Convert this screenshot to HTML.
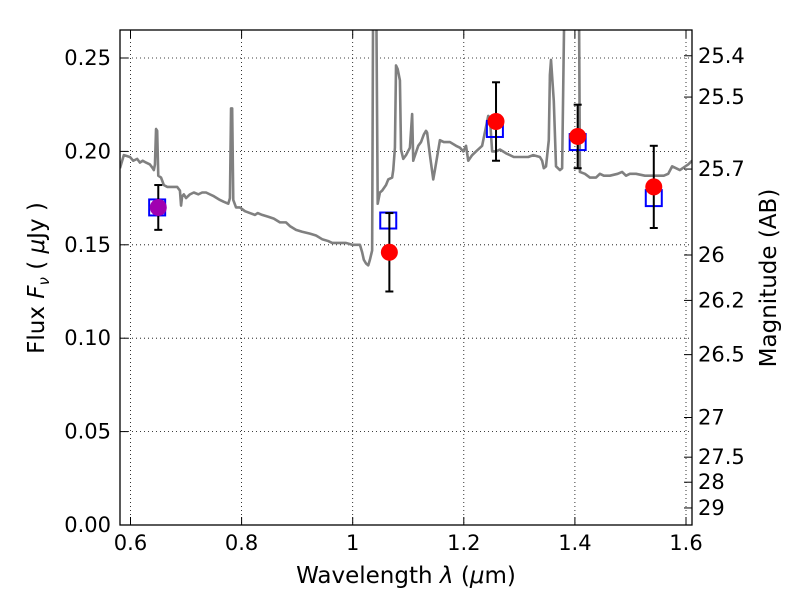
<!DOCTYPE html>
<html><head><meta charset="utf-8"><style>
body{margin:0;background:#fff}
svg text{font-family:"DejaVu Sans","Liberation Sans",sans-serif;fill:#000}
</style></head><body>
<svg id="c" width="800" height="600" xmlns="http://www.w3.org/2000/svg">
<rect width="800" height="600" fill="#fff"/>
<defs><clipPath id="pc"><rect x="120" y="30" width="572" height="495"/></clipPath></defs>
<g id="grid"></g>
<g id="spec" clip-path="url(#pc)"></g>
<g id="marks" clip-path="url(#pc)"></g>
<rect x="120" y="30" width="572" height="495" fill="none" stroke="#000" stroke-width="1.3"/>
<g id="axes"></g>
<text x="406" y="583" font-size="23" text-anchor="middle">Wavelength  <tspan font-style="italic">λ</tspan> (<tspan font-style="italic">μ</tspan>m)</text>
<text transform="translate(44,278) rotate(-90)" font-size="23" text-anchor="middle">Flux  <tspan font-style="italic">F<tspan font-size="15" dy="5">ν</tspan></tspan><tspan dy="-5">  ( </tspan><tspan font-style="italic">μ</tspan>Jy )</text>
<text transform="translate(776,278) rotate(-90)" font-size="23" text-anchor="middle">Magnitude (AB)</text>
</svg>
<script>
const specLam=[0.581,0.588,0.599,0.605,0.612,0.617,0.622,0.628,0.635,0.640,0.642,0.644,0.646,0.648,0.650,0.655,0.660,0.666,0.675,0.684,0.689,0.691,0.693,0.696,0.700,0.707,0.714,0.722,0.729,0.736,0.743,0.750,0.761,0.768,0.776,0.779,0.781,0.783,0.785,0.790,0.797,0.806,0.815,0.824,0.829,0.837,0.848,0.858,0.869,0.880,0.887,0.898,0.909,0.923,0.934,0.945,0.956,0.963,0.974,0.988,0.999,1.006,1.013,1.017,1.020,1.024,1.028,1.031,1.035,1.037,1.042,1.045,1.049,1.053,1.060,1.064,1.071,1.073,1.076,1.078,1.081,1.085,1.087,1.091,1.096,1.103,1.107,1.109,1.110,1.118,1.123,1.128,1.132,1.134,1.139,1.145,1.148,1.157,1.164,1.175,1.186,1.193,1.199,1.204,1.208,1.215,1.222,1.233,1.244,1.247,1.251,1.258,1.265,1.276,1.283,1.290,1.301,1.308,1.316,1.325,1.337,1.341,1.344,1.348,1.353,1.355,1.357,1.362,1.366,1.373,1.377,1.382,1.386,1.407,1.409,1.418,1.427,1.438,1.445,1.452,1.463,1.477,1.485,1.492,1.499,1.510,1.526,1.546,1.560,1.568,1.575,1.589,1.604,1.611];
const specFlux=[0.191,0.198,0.197,0.195,0.196,0.194,0.195,0.194,0.193,0.191,0.190,0.193,0.212,0.211,0.187,0.186,0.182,0.181,0.181,0.181,0.179,0.171,0.176,0.177,0.175,0.177,0.178,0.177,0.178,0.178,0.177,0.176,0.174,0.173,0.172,0.175,0.223,0.223,0.174,0.170,0.170,0.168,0.167,0.166,0.167,0.166,0.165,0.164,0.162,0.162,0.160,0.158,0.157,0.156,0.155,0.153,0.152,0.151,0.151,0.151,0.150,0.150,0.150,0.146,0.142,0.140,0.139,0.142,0.147,0.30,0.30,0.172,0.178,0.179,0.182,0.185,0.186,0.190,0.202,0.246,0.244,0.238,0.201,0.196,0.198,0.202,0.220,0.195,0.196,0.203,0.205,0.209,0.211,0.210,0.198,0.185,0.190,0.206,0.205,0.205,0.203,0.202,0.200,0.203,0.195,0.198,0.200,0.203,0.219,0.218,0.200,0.200,0.201,0.199,0.198,0.197,0.197,0.197,0.197,0.198,0.197,0.195,0.191,0.192,0.206,0.241,0.249,0.227,0.192,0.190,0.191,0.30,0.30,0.30,0.189,0.188,0.186,0.186,0.188,0.187,0.187,0.188,0.189,0.187,0.188,0.188,0.187,0.187,0.187,0.188,0.192,0.190,0.193,0.195];
const modelLam=[0.648,1.064,1.256,1.405,1.542];
const modelFlux=[0.170,0.163,0.212,0.205,0.175];
const obsLam=[0.650,1.066,1.258,1.405,1.542];
const obsFlux=[0.170,0.146,0.216,0.208,0.181];
const obsErr=[0.012,0.021,0.021,0.017,0.022];
const xTicks=[0.6,0.8,1.0,1.2,1.4,1.6];
const xTickLabels=["0.6","0.8","1","1.2","1.4","1.6"];
const yTicks=[0,0.05,0.10,0.15,0.20,0.25];
const yTickLabels=["0.00","0.05","0.10","0.15","0.20","0.25"];
const magTicks=[25.4,25.5,25.7,26,26.2,26.5,27,27.5,28,29];

const NS="http://www.w3.org/2000/svg";
const X=v=>130.5+(v-0.6)*555.5;
const Y=v=>525-v*1868;
function mk(tag,attrs,parent){const e=document.createElementNS(NS,tag);for(const k in attrs)e.setAttribute(k,attrs[k]);parent.appendChild(e);return e;}
const grid=document.getElementById('grid'),axes=document.getElementById('axes');
xTicks.forEach((t,i)=>{
  const x=X(t);
  if(x>121&&x<691){const g=mk('line',{x1:x,x2:x,y1:30,y2:525,stroke:'#000','stroke-dasharray':'1,3','stroke-width':0.8},grid);
  
  }
  mk('line',{x1:x,x2:x,y1:525,y2:517,stroke:'#000'},axes);
  mk('line',{x1:x,x2:x,y1:30,y2:38,stroke:'#000'},axes);
  const tx=mk('text',{x:x,y:550,'font-size':21,'text-anchor':'middle'},axes);
  tx.textContent=xTickLabels[i];
  
  
});
yTicks.forEach((t,i)=>{
  const y=Y(t);
  if(y>31&&y<524){const g=mk('line',{x1:120,x2:692,y1:y,y2:y,stroke:'#000','stroke-dasharray':'1,3','stroke-width':0.8},grid);
  
  }
  mk('line',{x1:120,x2:128,y1:y,y2:y,stroke:'#000'},axes);
  const tx=mk('text',{x:111,y:y+7,'font-size':21,'text-anchor':'end'},axes);
  tx.textContent=yTickLabels[i];
  
  
});
magTicks.forEach(m=>{
  const f=Math.pow(10,(23.9-m)/2.5);const y=Y(f);
  mk('line',{x1:684,x2:692,y1:y,y2:y,stroke:'#000'},axes);
  const tx=mk('text',{x:698,y:y+7,'font-size':21},axes);
  tx.textContent=String(m);
  
  
});
const spec=document.getElementById('spec');
const p=mk('polyline',{points:specLam.map((l,i)=>X(l)+','+Y(specFlux[i])).join(' '),fill:'none',stroke:'#808080','stroke-width':2.6,'stroke-linejoin':'round'},spec);


const marks=document.getElementById('marks');
modelLam.forEach((l,i)=>{
  const r=mk('rect',{x:X(l)-8,y:Y(modelFlux[i])-8,width:16,height:16,fill:'none',stroke:'#0000ff','stroke-width':2},marks);
  
  
});
obsLam.forEach((l,i)=>{
  const x=X(l),y1=Y(obsFlux[i]+obsErr[i]),y2=Y(obsFlux[i]-obsErr[i]);
  const g=mk('g',{},marks);
  
  
  mk('line',{x1:x,x2:x,y1:y1,y2:y2,stroke:'#000','stroke-width':2},g);
  mk('line',{x1:x-4,x2:x+4,y1:y1,y2:y1,stroke:'#000','stroke-width':2},g);
  mk('line',{x1:x-4,x2:x+4,y1:y2,y2:y2,stroke:'#000','stroke-width':2},g);
  const c=mk('circle',{cx:x,cy:Y(obsFlux[i]),r:8.5,fill:i===0?'#a000b0':'#ff0000'},marks);
  
  
});
</script>
</body></html>
